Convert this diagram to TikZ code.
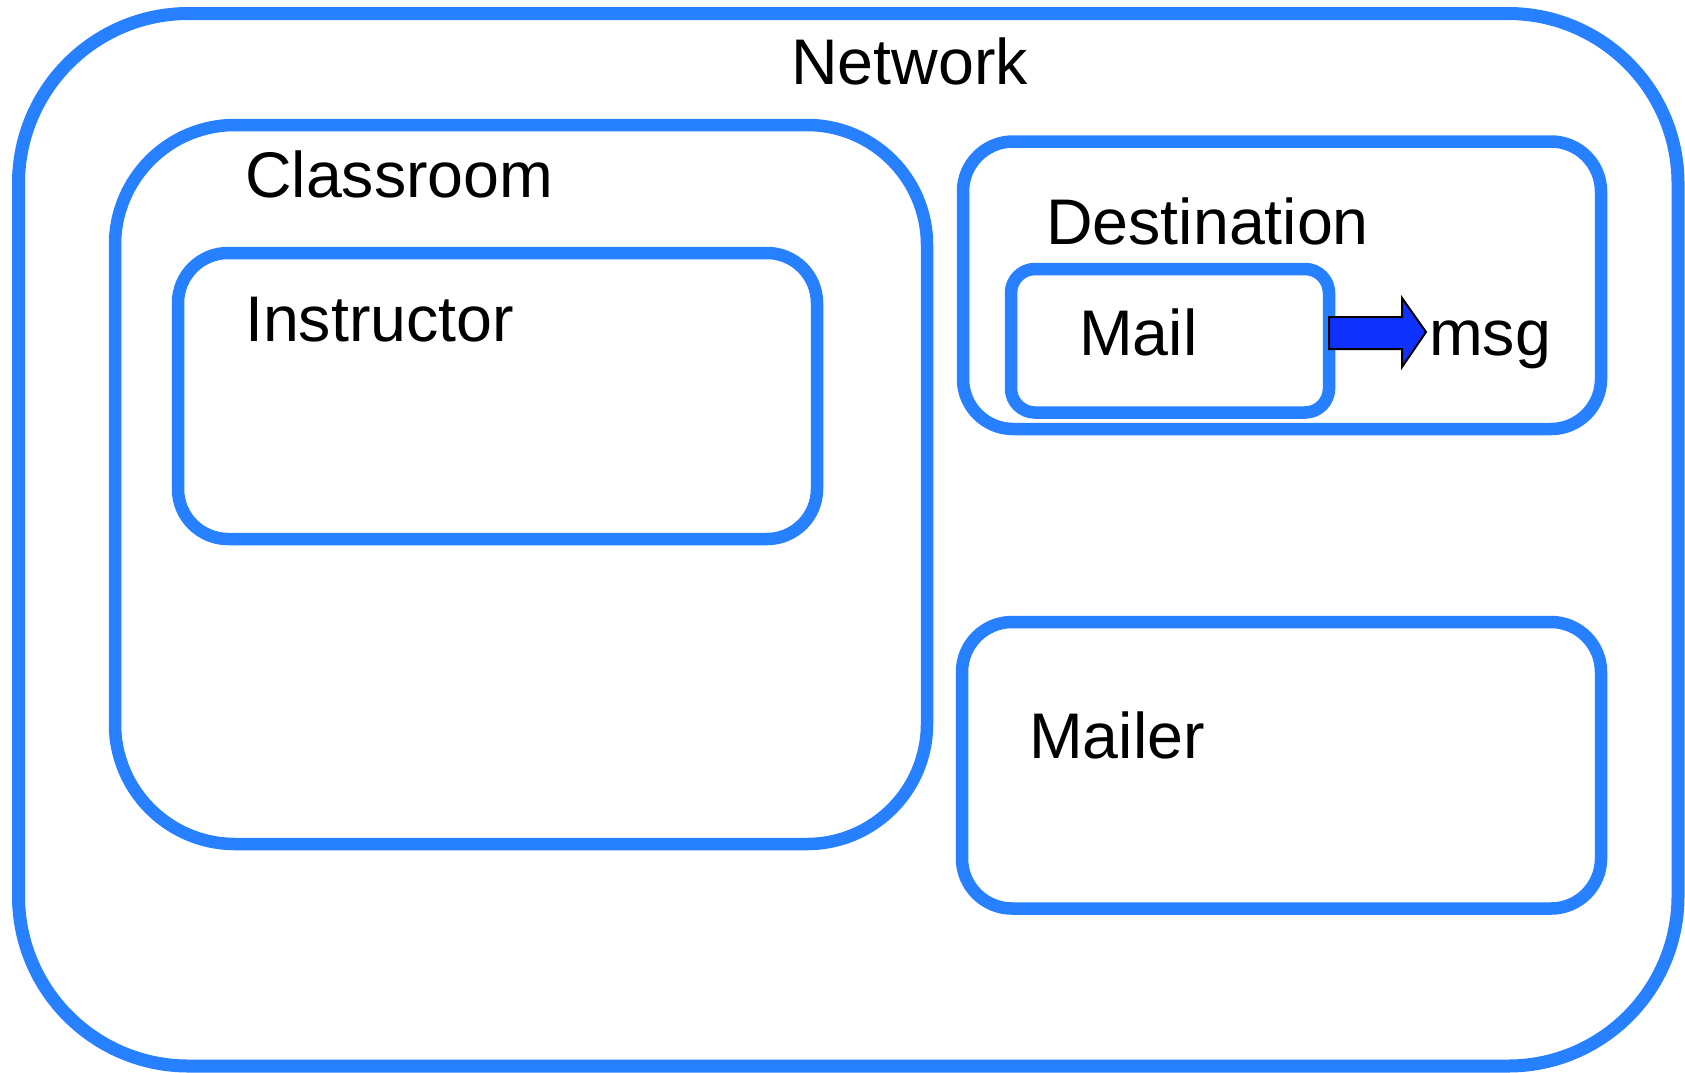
\documentclass[tikz,border=0pt]{standalone}
\usepackage{fontspec}
\setmainfont{Liberation Sans}
\definecolor{frameblue}{RGB}{38,128,255}
\definecolor{arrowblue}{RGB}{16,50,255}
\tikzset{
  frame/.style={draw=frameblue, line width=12.5pt, rectangle, inner sep=0pt, outer sep=0pt},
  caption/.style={anchor=base west, inner sep=0pt, font=\fontsize{64.5}{77}\selectfont},
  flowarrow/.style={draw=black, line width=2pt, fill=arrowblue, line join=miter}
}
\begin{document}
\begin{tikzpicture}[x=1pt,y=-1pt]
\useasboundingbox (0,0) rectangle (1685,1072);
\begin{scope}
\clip (0,0) rectangle (1685,1072);
% outer network frame
\node[frame, line width=13pt, rounded corners=170pt, minimum width=1659.5pt, minimum height=1052.5pt] (network) at (848.25,539.75) {};
% classroom and instructor
\node[frame, rounded corners=120pt, minimum width=812pt, minimum height=719pt] (classroom) at (521,484.5) {};
\node[frame, rounded corners=50pt, minimum width=639pt, minimum height=286pt] (instructor) at (497.5,396) {};
% destination with its mail
\node[frame, rounded corners=50pt, minimum width=638pt, minimum height=287.5pt] (destination) at (1282,285.25) {};
\node[frame, rounded corners=24pt, minimum width=318pt, minimum height=143.5pt] (mail) at (1170,340.75) {};
% mailer
\node[frame, rounded corners=50pt, minimum width=639pt, minimum height=286.5pt] (mailer) at (1281.5,765.25) {};
\end{scope}
% labels
\node[caption] (networklbl) at (791,84) {Network};
\node[caption] (classroomlbl) at (245,197) {Classroom};
\node[caption] (instructorlbl) at (245,341) {Instructor};
\node[caption] (destinationlbl) at (1046,244) {Destination};
\node[caption] (maillbl) at (1079,355) {Mail};
\node[caption] (mailerlbl) at (1029,758) {Mailer};
\node[caption] (msg) at (1429,355) {msg};
% block arrow from the mail to its message
\coordinate (arrowtail) at ([yshift=8.75pt]mail.east);
\draw[flowarrow] (arrowtail) ++(0,-15) -- ++(73,0) -- ++(0,-19) -- ++(24,34) -- ++(-24,35)
  -- ++(0,-18) -- ++(-73,0) -- cycle;
\end{tikzpicture}
\end{document}
